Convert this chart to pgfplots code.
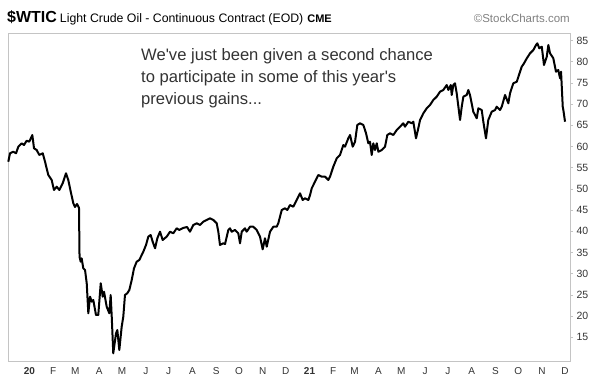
\documentclass[border=0pt]{standalone}
\usepackage{fontspec}
\setmainfont{Liberation Sans}[Ligatures=TeXOff]
\usepackage{pgfplots}
\pgfplotsset{compat=1.18}
\definecolor{frameGray}{HTML}{C4C4C4}
\definecolor{labGray}{HTML}{333333}
\definecolor{copyGray}{HTML}{808080}
\begin{document}
\begin{tikzpicture}[x=1pt,y=1pt]
\useasboundingbox (0,0) rectangle (600,380);
\begin{axis}[
  at={(8pt,19pt)}, anchor=south west,
  scale only axis, width=562pt, height=328pt,
  xmin=-28.1, xmax=706.5, ymin=9.41, ymax=86.77,
  axis line style={draw=frameGray, line width=0.8pt},
  ytick={15,20,...,85},
  yticklabel pos=right,
  ytick pos=right,
  tick align=outside,
  major tick length=3pt,
  ytick style={draw=frameGray, line width=0.6pt},
  xtick={0,31,60,91,121,152,182,213,244,274,305,335,366,397,425,456,486,517,547,578,609,639,670,700},
  xticklabels={\textbf{20},F,M,A,M,J,J,A,S,O,N,D,\textbf{21},F,M,A,M,J,J,A,S,O,N,D},
  xtick style={draw=none},
  xticklabel style={font=\fontsize{10}{12}\selectfont, text=labGray},
  yticklabel style={font=\fontsize{10.5}{12}\selectfont, text=labGray, xshift=0pt},
  /pgf/number format/assume math mode=true,
  clip=false,
]
\addplot[black, line width=2pt, line join=round] coordinates {
(-27.7,56.41) (-25.5,58.40) (-21.2,58.77) (-17.6,58.40) (-14.6,59.95) (-10.2,60.75) (-7.2,60.35) (-3.7,61.37) (-0.3,61.13) (3.7,62.71)
(5.9,59.58) (9.4,59.17) (12.8,58.0) (17.3,58.40) (20.3,56.41) (24.6,53.28) (29.0,52.10) (32.0,49.74) (35.6,50.52) (39.0,49.74)
(43.4,51.32) (47.7,53.68) (50.7,52.10) (53.9,49.34) (57.3,46.60) (59.5,45.73) (62.1,46.44) (64.7,45.50) (65.4,34.01) (66.9,32.83)
(68.2,33.63) (70.3,31.27) (72.6,30.87) (74.8,27.74) (76.9,20.66) (79.1,24.58) (81.3,23.40) (83.4,23.80) (86.9,20.26) (89.9,20.26)
(93.1,27.74) (95.7,24.58) (97.4,25.75) (100.9,22.22) (104.3,20.66) (106.1,24.98) (107.5,19.86) (109.5,11.23) (113.1,15.94) (114.8,16.72)
(117.4,12.0) (120.5,17.5) (122.6,19.86) (124.8,24.98) (127.8,25.38) (130.5,26.16) (133.6,28.51) (136.6,31.27) (140.1,32.83) (143.5,33.23)
(146.7,34.41) (148.8,35.19) (152.3,36.77) (155.3,38.73) (158.4,39.13) (161.0,37.55) (164.1,35.99) (167.1,38.35) (170.6,39.91) (174.1,37.95)
(179.3,38.73) (183.7,39.91) (188.0,39.53) (192.4,40.71) (195.8,40.31) (200.7,40.78) (205.9,41.01) (209.8,39.91) (214.1,41.49) (218.6,41.89)
(222.9,41.49) (227.2,42.26) (231.6,42.67) (236.0,43.07) (240.3,42.67) (244.7,41.89) (246.8,39.91) (249.0,36.77) (253.3,37.17) (255.6,37.0)
(259.9,40.31) (262.1,40.71) (264.3,39.91) (268.6,40.31) (272.9,39.53) (275.2,37.17) (277.4,39.91) (281.7,40.71) (283.9,39.91) (288.2,41.08)
(292.5,41.08) (297.0,40.31) (301.3,38.73) (304.8,35.75) (307.8,38.35) (310.1,36.37) (314.4,39.91) (318.7,41.08) (323.1,41.08) (325.2,41.89)
(329.7,45.02) (334.0,45.42) (337.0,45.02) (340.5,46.20) (344.8,45.80) (349.3,47.38) (353.6,48.96) (357.1,47.38) (360.1,47.78) (364.5,47.38)
(366.7,48.56) (368.9,50.14) (373.2,51.70) (377.5,53.28) (382.0,52.88) (386.3,52.88) (390.6,52.10) (392.8,52.88) (397.1,55.24) (401.6,57.22)
(405.9,58.0) (410.2,60.35) (412.4,59.95) (416.7,61.93) (419.0,62.71) (422.5,59.95) (425.5,61.13) (428.5,65.07) (432.0,65.47) (436.4,65.07)
(439.9,63.11) (442.9,60.75) (445.1,61.13) (447.3,58.0) (449.4,60.75) (451.6,59.17) (453.9,60.75) (456.0,58.77) (460.4,59.17) (464.7,59.95)
(467.7,62.71) (471.2,63.11) (475.6,62.71) (480.0,63.89) (484.3,64.67) (488.6,65.47) (490.8,64.67) (495.2,65.85) (499.6,65.47) (501.7,65.85)
(505.2,61.93) (508.2,64.29) (510.5,66.25) (514.8,67.83) (519.2,69.01) (523.5,69.79) (527.8,70.97) (532.3,71.75) (536.6,72.92) (540.9,73.33)
(545.4,74.50) (547.5,73.33) (550.6,74.50) (551.9,72.15) (554.0,74.50) (556.2,74.91) (558.4,72.55) (562.8,66.25) (565.0,69.39) (567.1,71.75)
(571.5,72.15) (573.6,73.33) (575.8,72.15) (580.1,68.21) (584.6,66.65) (586.7,69.01) (591.1,68.61) (593.2,65.85) (596.7,61.93) (599.7,66.25)
(604.2,68.21) (608.5,68.61) (610.7,69.39) (615.0,68.61) (617.3,69.39) (621.6,72.15) (625.9,70.19) (628.1,72.55) (632.4,74.91) (636.9,75.28)
(641.2,77.64) (643.4,78.82) (646.4,79.62) (650.0,80.80) (654.3,81.98) (658.6,82.76) (662.1,83.94) (663.8,84.34) (666.4,83.16) (669.6,83.54)
(672.5,79.22) (676.1,81.18) (678.2,83.94) (680.4,81.98) (684.7,80.80) (688.2,77.64) (691.2,78.04) (693.5,76.08) (694.8,77.64) (697.0,69.39)
(697.8,68.61) (700.0,65.85)
};
\end{axis}
% title
\node[anchor=base west, inner sep=0pt] at (7,357.5) {{\fontsize{16}{16}\selectfont\bfseries \$WTIC}\hspace{3pt}{\fontsize{12.3}{14}\selectfont Light Crude Oil - Continuous Contract (EOD)}\hspace{4pt}{\fontsize{11}{12}\selectfont\bfseries CME}};
\node[anchor=base east, inner sep=0pt, text=copyGray] at (570,357.5) {\fontsize{11.5}{13}\selectfont ©StockCharts.com};
% annotation
\node[anchor=base west, inner sep=0pt, text=labGray] at (141,319.5) {\fontsize{16.6}{20}\selectfont We've just been given a second chance};
\node[anchor=base west, inner sep=0pt, text=labGray] at (141,297.3) {\fontsize{16.6}{20}\selectfont to participate in some of this year's};
\node[anchor=base west, inner sep=0pt, text=labGray] at (141,275) {\fontsize{16.6}{20}\selectfont previous gains...};
\end{tikzpicture}
\end{document}
